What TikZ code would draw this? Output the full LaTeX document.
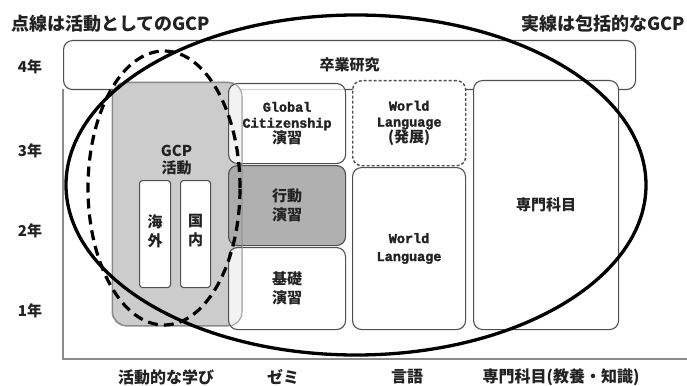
\documentclass[tikz,border=0pt]{standalone}
\usepackage{fontspec}
\setmainfont{Noto Sans CJK JP}
\newfontfamily\mono{Liberation Mono}[FakeBold=2]
\newcommand\mtf{\mono\fontsize{13.5}{17}\selectfont}
\usetikzlibrary{shapes.geometric}
\definecolor{lightgr}{HTML}{CCCCCC}
\definecolor{midgr}{HTML}{A8A8A8}
\definecolor{edgegr}{HTML}{505050}
\definecolor{axisgr}{HTML}{8C8C8C}
\definecolor{txt}{HTML}{222222}
\tikzset{
  box/.style={draw=edgegr, line width=1.1pt, rounded corners=9pt, fill=white, anchor=north west, inner sep=0pt, align=center},
  smallbox/.style={box, rounded corners=3pt},
  lbl/.style={inner sep=0pt, align=center, text=txt, font=\bfseries\fontsize{15}{19}\selectfont},
  ylbl/.style={inner sep=0pt, text=txt, font=\bfseries\fontsize{15}{18}\selectfont},
  xlbl/.style={inner sep=0pt, text=txt, font=\bfseries\fontsize{16}{18}\selectfont},
  ttl/.style={inner sep=0pt, text=txt, font=\bfseries\fontsize{18}{20}\selectfont},
  axisline/.style={draw=axisgr, line width=1.4pt},
  solidell/.style={draw=black, line width=3.3pt, ellipse, inner sep=0pt},
  dashell/.style={draw=black, line width=3.2pt, dash pattern=on 10pt off 6pt, ellipse, inner sep=0pt},
}
\begin{document}
\begin{tikzpicture}[x=1pt,y=-1pt]
\useasboundingbox[fill=white] (0,0) rectangle (687,385);
% titles
\node[ttl, anchor=west] (t1) at (11,24) {点線は活動としてのGCP};
\node[ttl, anchor=east] (t2) at (685,24) {実線は包括的なGCP};
% axes
\coordinate (atop) at (63,89);
\coordinate (orig) at (63,359);
\coordinate (aend) at (687,359);
\draw[axisline] (atop) -- (orig) -- (aend);
% year labels
\node[ylbl] (y4) at (30,67) {4年};
\node[ylbl] (y3) at (30,151) {3年};
\node[ylbl] (y2) at (30,231) {2年};
\node[ylbl] (y1) at (30,311) {1年};
% bottom labels
\node[xlbl] (b1) at (166,377) {活動的な学び};
\node[xlbl] (b2) at (283,377) {ゼミ};
\node[xlbl] (b3) at (407,377) {言語};
\node[xlbl] (b4) at (561,377) {専門科目(教養・知識)};
% graduation research
\node[box, minimum width=572pt, minimum height=49pt] (grad) at (63,40) {};
\node[lbl] (gradt) at (grad.center) {卒業研究};
% GCP activity
\node[box, fill=lightgr, draw=edgegr!70, rounded corners=14pt, minimum width=129pt, minimum height=243pt] (gcp) at (112,82) {};
\node[lbl] (gcpt) at (176.5,160) {GCP\\[-2pt]活動};
\node[smallbox, minimum width=31pt, minimum height=107pt] (kaigai) at (139,180) {};
\node[lbl] (kaigait) at ([yshift=3pt]kaigai.center) {海\\外};
\node[smallbox, minimum width=30pt, minimum height=107pt] (kokunai) at (180,180) {};
\node[lbl] (kokunait) at ([yshift=3pt]kokunai.center) {国\\内};
% seminar column
\node[box, fill opacity=0.75, minimum width=117pt, minimum height=80pt] (global) at (228,83) {};
\node[lbl] (globalt) at (global.center) {{\mtf Global}\\[-3pt]{\mtf Citizenship}\\[-3pt]演習};
\node[box, fill=midgr, fill opacity=0.9, minimum width=117pt, minimum height=80pt] (kodo) at (228,165) {};
\node[lbl] (kodot) at (kodo.center) {行動\\演習};
\node[box, fill opacity=0.75, minimum width=117pt, minimum height=82pt] (kiso) at (228,247) {};
\node[lbl] (kisot) at (kiso.center) {基礎\\演習};
% gcp outline faintly over overlaps
\draw[draw=edgegr!60, line width=0.8pt, rounded corners=14pt] (gcp.north west) rectangle (gcp.south east);
% language column
\node[box, dash pattern=on 3pt off 2pt, line width=1.4pt, minimum width=113pt, minimum height=85pt] (wl2) at (352,80) {};
\node[lbl] (wl2t) at (wl2.center) {{\mtf World}\\[-3pt]{\mtf Language}\\[-3pt](発展)};
\node[box, minimum width=113pt, minimum height=162pt] (wl) at (352,167) {};
\node[lbl] (wlt) at (wl.center) {{\mtf World}\\[-1pt]{\mtf Language}};
% specialty
\node[box, minimum width=145pt, minimum height=249pt] (senmon) at (473,80) {};
\node[lbl] (senmont) at (senmon.center) {専門科目};
% ellipses
\node[solidell, minimum width=580pt, minimum height=340pt] (bigell) at (356,185) {};
\node[dashell, minimum width=152pt, minimum height=274pt] (dashedell) at (164,188) {};
\end{tikzpicture}
\end{document}
